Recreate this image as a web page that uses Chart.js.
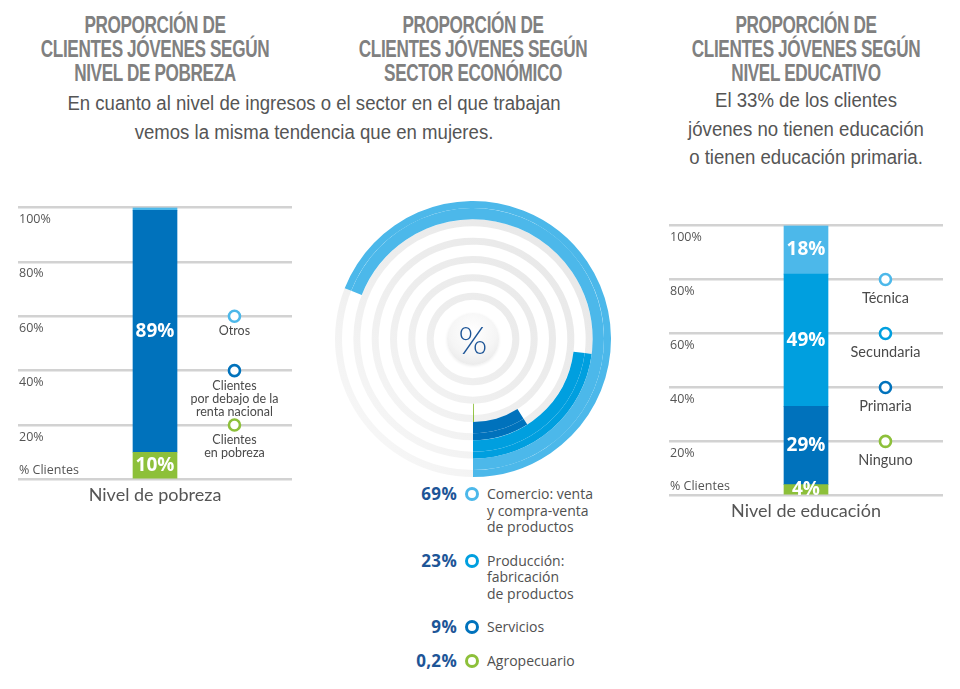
<!DOCTYPE html>
<html lang="es">
<head>
<meta charset="utf-8">
<title>Clientes jóvenes</title>
<script src="https://cdn.jsdelivr.net/npm/chart.js@4.4.1/dist/chart.umd.min.js"></script>
<style>
  body { margin: 0; background: #fff; }
  #page { position: relative; width: 960px; height: 689px; overflow: hidden; font-family: 'Open Sans', sans-serif; color: #555; }
  .title { position: absolute; top: 13px; width: 400px; margin-left: -200px; text-align: center;
           font-family: 'Liberation Sans', Arial, sans-serif; font-weight: 700; font-size: 23.5px;
           line-height: 24px; letter-spacing: -0.5px; color: #808080; transform: scaleX(0.73); }
  .sub { position: absolute; text-align: center; font-family: 'Liberation Sans', Arial, sans-serif;
         font-size: 20px; color: #555; transform: scaleX(0.93); }
  .box { position: absolute; }
  #centre { position: absolute; left: 447px; top: 313px; width: 52px; height: 52px; border-radius: 50%;
            background: radial-gradient(circle at 50% 35%, #ffffff 0%, #f5f5f5 55%, #e3e3e3 100%);
            box-shadow: 0 1px 3px rgba(0,0,0,0.08);
            display: flex; align-items: center; justify-content: center;
            font-family: 'Lato', sans-serif; font-weight: 300; font-size: 37px; color: #1d5597; }
  #sectorLegend { position: absolute; left: 380px; top: 486px; width: 260px; }
  .row { display: flex; align-items: flex-start; margin-bottom: 17px; }
  .pct { width: 77px; text-align: right; font-weight: 700; font-size: 17px; line-height: 16.5px; color: #1d5597; letter-spacing: 0.3px; }
  .dot { width: 8px; height: 8px; border: 3px solid; border-radius: 50%; margin: 1px 0 0 8px; flex: none; }
  .txt { margin-left: 8px; font-size: 14px; line-height: 16.5px; color: #505050; }
</style>
</head>
<body>
<div id="page">
  <div class="title" style="left:155px">PROPORCIÓN DE<br>CLIENTES JÓVENES SEGÚN<br>NIVEL DE POBREZA</div>
  <div class="title" style="left:473px">PROPORCIÓN DE<br>CLIENTES JÓVENES SEGÚN<br>SECTOR ECONÓMICO</div>
  <div class="title" style="left:806px">PROPORCIÓN DE<br>CLIENTES JÓVENES SEGÚN<br>NIVEL EDUCATIVO</div>
  <div class="sub" style="left:14px; top:89px; width:600px; line-height:29px">En cuanto al nivel de ingresos o el sector en el que trabajan<br>vemos la misma tendencia que en mujeres.</div>
  <div class="sub" style="left:656px; top:86px; width:300px; line-height:28.5px">El 33% de los clientes<br>jóvenes no tienen educación<br>o tienen educación primaria.</div>

  <div class="box" style="left:18px; top:199px; width:274px; height:307px"><canvas id="povertyChart"></canvas></div>
  <div class="box" style="left:335px; top:201px; width:276px; height:276px"><canvas id="sectorChart"></canvas></div>
  <div id="centre">%</div>
  <div id="sectorLegend"></div>
  <div class="box" style="left:669px; top:217px; width:274px; height:305px"><canvas id="educationChart"></canvas></div>
</div>

<script>
// nivel de pobreza (bottom to top)
const povertyLabels = ['Clientes en pobreza', 'Clientes por debajo de la renta nacional', 'Otros'];
const povertyValues = [10, 89, 1];
const povertyLegend = [['Clientes', 'en pobreza'], ['Clientes', 'por debajo de la', 'renta nacional'], ['Otros']];
const povertyLegendAt = [20, 40, 60];

// sector económico (outer ring first)
const sectorLabels = [['Comercio: venta', 'y compra-venta', 'de productos'], ['Producción:', 'fabricación', 'de productos'], ['Servicios'], ['Agropecuario']];
const sectorValues = [69, 23, 9, 0.2];

// nivel educativo (bottom to top)
const educationLabels = ['Ninguno', 'Primaria', 'Secundaria', 'Técnica'];
const educationValues = [4, 29, 49, 18];
const educationLegendAt = [20, 40, 60, 80];

// y axis
const tickValues = [0, 20, 40, 60, 80, 100];
const unitTick = 7.6;
const unitLabel = '% Clientes';

const green = '#8dc03a', dark = '#0072bc', mid = '#009fdf', light = '#4cb8ea';
const povertyColors = [green, dark, light];
const educationColors = [green, dark, mid, light];
const sectorColors = [light, mid, dark, green];
const gridGrey = '#d2d2d2';

Chart.defaults.font.family = "'Open Sans', sans-serif";
Chart.defaults.color = '#555';

const barValues = {
    id: 'barValues',
    afterDatasetsDraw(chart) {
        const ctx = chart.ctx;
        ctx.save();
        ctx.fillStyle = '#fff';
        ctx.font = "bold 19px 'Open Sans', sans-serif";
        ctx.textAlign = 'center';
        ctx.textBaseline = 'middle';
        chart.data.datasets.forEach((ds, i) => {
            const v = ds.data[0];
            if (v < 3) return;
            const bar = chart.getDatasetMeta(i).data[0];
            ctx.fillText(v + '%', bar.x, (bar.y + bar.base) / 2);
        });
        ctx.restore();
    }
};

function markerLegend(items, font, gap, lineHeight) {
    return {
        id: 'markerLegend',
        afterDatasetsDraw(chart) {
            const ctx = chart.ctx;
            const area = chart.chartArea;
            const x = area.left + area.width * 0.79;
            items.forEach(it => {
                const cy = chart.scales.y.getPixelForValue(it.at);
                ctx.save();
                ctx.beginPath();
                ctx.arc(x, cy, 5.5, 0, Math.PI * 2);
                ctx.fillStyle = '#fff';
                ctx.fill();
                ctx.lineWidth = 2.6;
                ctx.strokeStyle = it.color;
                ctx.stroke();
                ctx.fillStyle = '#4a4a4a';
                ctx.font = font;
                ctx.textAlign = 'center';
                ctx.textBaseline = 'middle';
                it.lines.forEach((line, k) => ctx.fillText(line, x, cy + gap + k * lineHeight));
                ctx.restore();
            });
        }
    };
}

function stackedBar(id, labels, values, colors, title, legendItems, font, gap, lh) {
    return new Chart(document.getElementById(id), {
        type: 'bar',
        data: {
            labels: [''],
            datasets: values.map((v, i) => ({
                label: labels[i],
                data: [v],
                backgroundColor: colors[i],
                borderWidth: 0,
                barThickness: 44
            }))
        },
        options: {
            responsive: true,
            maintainAspectRatio: false,
            animation: false,
            events: [],
            plugins: { legend: { display: false }, tooltip: { enabled: false } },
            scales: {
                x: {
                    stacked: true,
                    grid: { display: false, drawTicks: false },
                    border: { display: false },
                    ticks: { display: false },
                    title: { display: true, text: title, color: '#555', padding: { top: 5, bottom: 0 },
                             font: { family: "'Lato', sans-serif", size: 18 } }
                },
                y: {
                    stacked: true,
                    min: 0,
                    max: 100,
                    afterBuildTicks: scale => {
                        scale.ticks = tickValues.concat([unitTick]).sort((a, b) => a - b).map(value => ({ value }));
                    },
                    afterFit: scale => { scale.width = 0; },
                    grid: {
                        drawTicks: false,
                        lineWidth: 2.5,
                        color: c => (c.tick && c.tick.value === unitTick) ? 'rgba(0,0,0,0)' : gridGrey
                    },
                    border: { display: false },
                    ticks: {
                        mirror: true,
                        autoSkip: false,
                        padding: 1,
                        labelOffset: 12,
                        color: '#555',
                        font: { size: 12.5 },
                        callback: v => v === unitTick ? unitLabel : (v === 0 ? '' : v + '%')
                    }
                }
            }
        },
        plugins: [barValues, markerLegend(legendItems, font, gap, lh)]
    });
}

stackedBar('povertyChart', povertyLabels, povertyValues, povertyColors, 'Nivel de pobreza',
    povertyLegend.map((lines, i) => ({ lines, at: povertyLegendAt[i], color: povertyColors[i] })),
    "12.5px 'Lato', sans-serif", 15, 13);

stackedBar('educationChart', educationLabels, educationValues, educationColors, 'Nivel de educación',
    educationLabels.map((name, i) => ({ lines: [name], at: educationLegendAt[i], color: educationColors[i] })),
    "14.5px 'Lato', sans-serif", 19, 15);

// sector rings: each slot = thin grey track (outer part) + colour arc over the whole slot
const ringSlots = 6;
const clear = 'rgba(0,0,0,0)';
let trackGradient = null;
function track(c) {
    const area = c.chart.chartArea;
    if (!area) return '#ececec';
    if (!trackGradient) {
        trackGradient = c.chart.ctx.createLinearGradient(area.right, area.top, area.left, area.bottom);
        trackGradient.addColorStop(0, '#e6e6e6');
        trackGradient.addColorStop(0.5, '#ededed');
        trackGradient.addColorStop(1, '#fafafa');
    }
    return trackGradient;
}
const sectorSets = [];
for (let i = 0; i < ringSlots; i++) {
    const v = i < sectorValues.length ? sectorValues[i] : 0;
    const col = sectorColors[i] || clear;
    sectorSets.push({ data: [100 - v, v], weight: 7, borderWidth: 0,
        backgroundColor: c => c.dataIndex === 0 ? track(c) : col });
    sectorSets.push({ data: [100 - v, v], weight: 11.3, borderWidth: 0,
        backgroundColor: c => c.dataIndex === 0 ? clear : col });
}
new Chart(document.getElementById('sectorChart'), {
    type: 'doughnut',
    data: { labels: ['resto', 'valor'], datasets: sectorSets },
    options: {
        responsive: true,
        maintainAspectRatio: false,
        animation: false,
        events: [],
        rotation: 180,
        cutout: '20.3%',
        plugins: { legend: { display: false }, tooltip: { enabled: false } }
    }
});

const legendBox = document.getElementById('sectorLegend');
sectorValues.forEach((v, i) => {
    const row = document.createElement('div');
    row.className = 'row';
    row.innerHTML = '<span class="pct">' + String(v).replace('.', ',') + '%</span>' +
        '<span class="dot" style="border-color:' + sectorColors[i] + '"></span>' +
        '<span class="txt">' + sectorLabels[i].join('<br>') + '</span>';
    legendBox.appendChild(row);
});
</script>
</body>
</html>
